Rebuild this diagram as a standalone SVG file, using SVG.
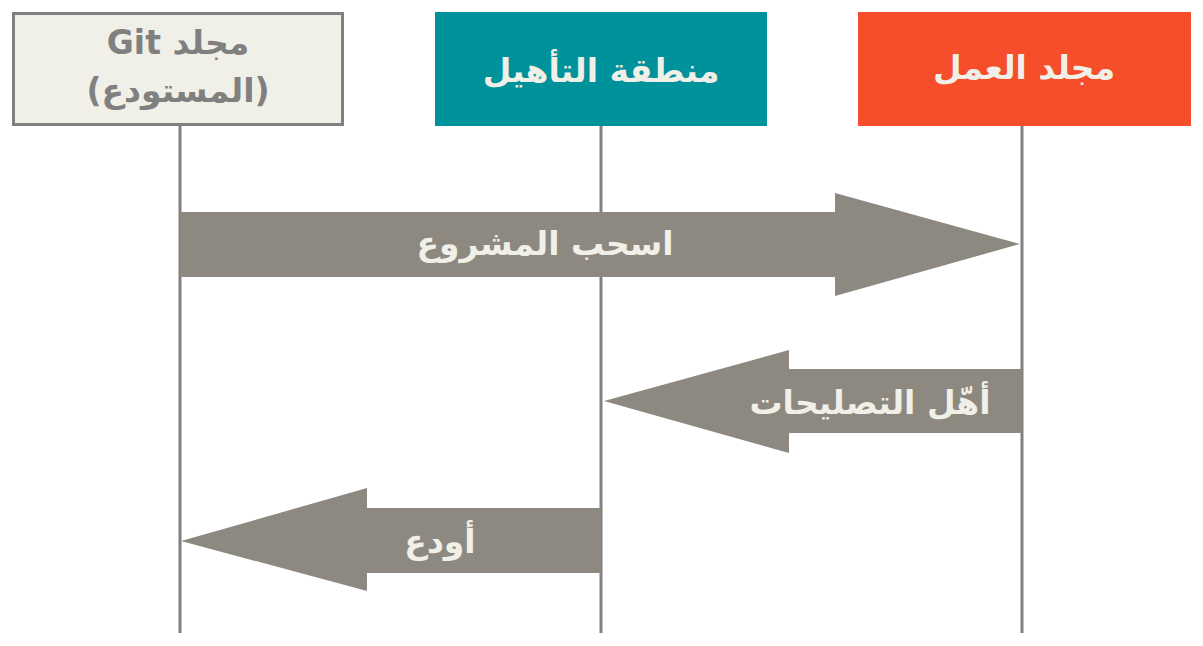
<svg xmlns="http://www.w3.org/2000/svg" width="1203" height="646" viewBox="0 0 1203 646">
<style>
text{font-family:"DejaVu Sans","Noto Sans",sans-serif;font-weight:bold;font-size:33px;text-anchor:middle;dominant-baseline:central;direction:rtl}
.lt{fill:#f0efe8}
.ar{fill:#8e8980}
.ll{stroke:#808080;stroke-width:3;fill:none}
</style>
<rect width="1203" height="646" fill="#ffffff"/>
<g id="lifelines">
<line class="ll" x1="180" y1="125" x2="180" y2="633"/>
<line class="ll" x1="601" y1="126" x2="601" y2="633"/>
<line class="ll" x1="1022" y1="126" x2="1022" y2="633"/>
</g>
<g id="repo"><rect x="13.5" y="13.5" width="329" height="111" fill="#f0efe8" stroke="#808080" stroke-width="3"/>
<text x="178" y="42" fill="#808080">مجلد Git</text><text x="178" y="90" fill="#808080">(المستودع)</text></g>
<g id="staging"><rect x="435" y="12" width="332" height="114" fill="#00929a"/>
<text class="lt" x="601" y="70">منطقة التأهيل</text></g>
<g id="work"><rect x="858" y="12" width="333" height="114" fill="#f64e2a"/>
<text class="lt" x="1024" y="67">مجلد العمل</text></g>
<g id="connectors">
<g id="checkout"><polygon class="ar" points="180,212 835,212 835,193 1020,244 835,296 835,277 180,277"/><text class="lt" x="545" y="243">اسحب المشروع</text></g>
<g id="stage"><polygon class="ar" points="1022,369 789,369 789,350 604,401 789,453 789,433 1022,433"/><text class="lt" x="870" y="402">أهّل التصليحات</text></g>
<g id="commit"><polygon class="ar" points="601,508 367,508 367,488 181,541 367,591 367,573 601,573"/><text class="lt" x="440" y="541">أودع</text></g>
</g>
</svg>
